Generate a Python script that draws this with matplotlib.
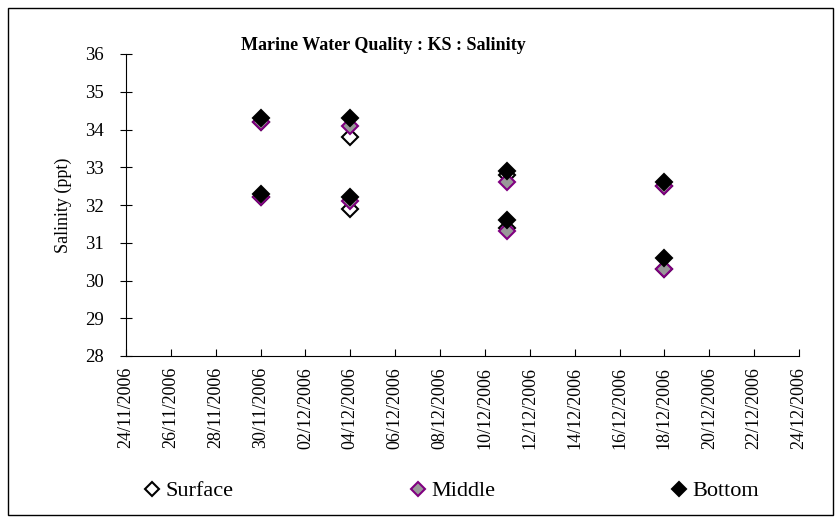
import datetime as dt
import matplotlib
matplotlib.use("Agg")
import matplotlib.pyplot as plt
import matplotlib.dates as mdates
from matplotlib.patches import Rectangle

plt.rcParams['font.family'] = ['Liberation Serif', 'DejaVu Serif']

# sampling dates (two stations per date -> two values per series)
dates = [dt.date(2006, 11, 30), dt.date(2006, 11, 30),
         dt.date(2006, 12, 4), dt.date(2006, 12, 4),
         dt.date(2006, 12, 11), dt.date(2006, 12, 11),
         dt.date(2006, 12, 18), dt.date(2006, 12, 18)]

surface = [34.2, 32.2, 33.8, 31.9, 32.8, 31.4, 32.5, 30.3]
middle = [34.2, 32.2, 34.1, 32.1, 32.6, 31.3, 32.5, 30.3]
bottom = [34.3, 32.3, 34.3, 32.2, 32.9, 31.6, 32.6, 30.6]

title = "Marine Water Quality : KS : Salinity"
ylabel = "Salinity (ppt)"

fig = plt.figure(figsize=(8.4, 5.23), dpi=100)
ax = fig.add_axes([126 / 840, 1 - 356 / 523, (799 - 126) / 840, (356 - 54) / 523])

ms = 8
ax.plot(dates, surface, 'D', linestyle='none', markersize=ms,
        markerfacecolor='white', markeredgecolor='black', markeredgewidth=1.5,
        label='Surface')
ax.plot(dates, middle, 'D', linestyle='none', markersize=ms,
        markerfacecolor='#999999', markeredgecolor='#800080', markeredgewidth=1.5,
        label='Middle')
ax.plot(dates, bottom, 'D', linestyle='none', markersize=ms,
        markerfacecolor='black', markeredgecolor='black', markeredgewidth=1.5,
        label='Bottom')

ax.set_ylim(28, 36)
ax.set_yticks(range(28, 37))
ax.set_xlim(dt.date(2006, 11, 24), dt.date(2006, 12, 24))
ax.set_xticks([dt.date(2006, 11, 24) + dt.timedelta(days=2 * i) for i in range(16)])
ax.xaxis.set_major_formatter(mdates.DateFormatter('%d/%m/%Y'))

for s in ['top', 'right']:
    ax.spines[s].set_visible(False)

ax.tick_params(axis='x', direction='in', length=5, labelsize=13, rotation=90, pad=8)
ax.tick_params(axis='y', direction='inout', length=8, labelsize=13.5, pad=12)

ax.set_ylabel(ylabel, fontsize=13)
ax.yaxis.set_label_coords(-0.08, 0.5)

fig.text(383 / 840, 1 - 45 / 523, title, fontsize=13, fontweight='bold',
         ha='center', va='center')

fig.legend(loc='center', bbox_to_anchor=(450 / 840, 1 - 491 / 523),
           ncol=3, frameon=False, fontsize=16, columnspacing=7.8,
           handletextpad=0.1, handlelength=1.0, markerscale=0.9)

fig.patches.append(Rectangle((8 / 840, 8 / 523), 825 / 840, 507 / 523,
                             transform=fig.transFigure, fill=False,
                             edgecolor='black', linewidth=1))

fig.savefig('out.png', dpi=100)
